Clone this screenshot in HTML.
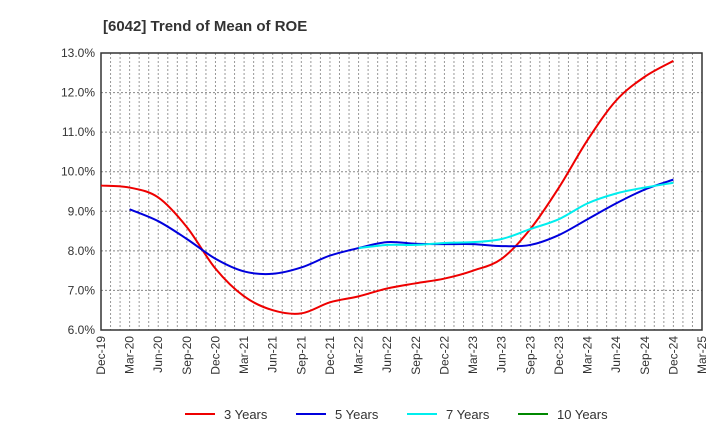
<!DOCTYPE html>
<html><head><meta charset="utf-8"><style>
body{margin:0;background:#fff;}
svg{display:block;font-family:"Liberation Sans",sans-serif;}
</style></head><body>
<svg id="chart" width="720" height="440">
<text x="103" y="31" font-size="15" font-weight="bold" fill="#333">[6042]  Trend of Mean of ROE</text>
<g id="grid"></g><g id="axes"></g><g id="series"></g><g id="legend"></g>
</svg>
<script>
const xLabels=["Dec-19","Mar-20","Jun-20","Sep-20","Dec-20","Mar-21","Jun-21","Sep-21","Dec-21","Mar-22","Jun-22","Sep-22","Dec-22","Mar-23","Jun-23","Sep-23","Dec-23","Mar-24","Jun-24","Sep-24","Dec-24","Mar-25"];
const yTicks=[6,7,8,9,10,11,12,13];
const seriesNames=["3 Years","5 Years","7 Years","10 Years"];
const seriesColors=["#ee0000","#0000dd","#00eeee","#008800"];
// values per quarter index (0 = Dec-19)
const s3Start=0;
const s3=[9.65,9.6,9.35,8.6,7.55,6.85,6.5,6.42,6.7,6.85,7.05,7.18,7.3,7.5,7.8,8.55,9.6,10.8,11.8,12.4,12.8];
const s5Start=1;
const s5=[9.05,8.75,8.3,7.8,7.48,7.42,7.58,7.88,8.07,8.22,8.18,8.17,8.17,8.12,8.15,8.4,8.8,9.2,9.55,9.8];
const s7Start=9;
const s7=[8.07,8.15,8.15,8.2,8.22,8.3,8.55,8.8,9.2,9.45,9.6,9.72];
const s10Start=0;
const s10=[];

const L=101,R=702,T=53,B=330,NM=63,ymin=6,ymax=13;
const xq=q=>L+(q*3)*(R-L)/NM;
const xm=m=>L+m*(R-L)/NM;
const y=v=>B-(v-ymin)*(B-T)/(ymax-ymin);
const NS="http://www.w3.org/2000/svg";
function mk(tag,attrs,parent){const e=document.createElementNS(NS,tag);for(const k in attrs)e.setAttribute(k,attrs[k]);parent.appendChild(e);return e;}
const grid=document.getElementById('grid'),axes=document.getElementById('axes'),ser=document.getElementById('series'),leg=document.getElementById('legend');
mk('rect',{x:L,y:T,width:R-L,height:B-T,fill:'#fff'},grid);
for(let m=1;m<NM;m++){const l=mk('line',{x1:xm(m),x2:xm(m),y1:T,y2:B,stroke:'#999','stroke-dasharray':'2,2','stroke-width':1},grid);

}
yTicks.forEach(v=>{if(v>ymin&&v<ymax){const l=mk('line',{x1:L,x2:R,y1:y(v),y2:y(v),stroke:'#888','stroke-dasharray':'2,2'},grid);

}
const t=mk('text',{x:L-6,y:y(v)+4,'text-anchor':'end','font-size':12,fill:'#333'},axes);t.textContent=v.toFixed(1)+'%';

});
xLabels.forEach((s,i)=>{const x=xq(i);const t=mk('text',{x:x+4,y:B+6,'text-anchor':'end','font-size':12,fill:'#333',transform:`rotate(-90 ${x+4} ${B+6})`},axes);t.textContent=s;

});
const fr=mk('rect',{x:L,y:T,width:R-L,height:B-T,fill:'none',stroke:'#333','stroke-width':1.5},axes);


function path(vals,start){if(vals.length<2)return '';const p=vals.map((v,i)=>[xq(start+i),y(v)]);let d=`M${p[0][0]},${p[0][1]}`;
for(let i=0;i<p.length-1;i++){const p0=p[Math.max(0,i-1)],p1=p[i],p2=p[i+1],p3=p[Math.min(p.length-1,i+2)];
const c1=[p1[0]+(p2[0]-p0[0])/6,p1[1]+(p2[1]-p0[1])/6],c2=[p2[0]-(p3[0]-p1[0])/6,p2[1]-(p3[1]-p1[1])/6];
d+=`C${c1[0]},${c1[1]} ${c2[0]},${c2[1]} ${p2[0]},${p2[1]}`;}return d;}
const all=[[s3,s3Start],[s5,s5Start],[s7,s7Start],[s10,s10Start]];
all.forEach(([v,s],i)=>{const d=path(v,s);if(!d)return;const e=mk('path',{d:d,fill:'none',stroke:seriesColors[i],'stroke-width':2},ser);

});
const lx=[185,296,407,518];
seriesNames.forEach((n,i)=>{const g=mk('g',{},leg);


mk('line',{x1:lx[i],x2:lx[i]+30,y1:414,y2:414,stroke:seriesColors[i],'stroke-width':2},g);
const t=mk('text',{x:lx[i]+39,y:419,'font-size':13,fill:'#333'},g);t.textContent=n;});
</script>
</body></html>
